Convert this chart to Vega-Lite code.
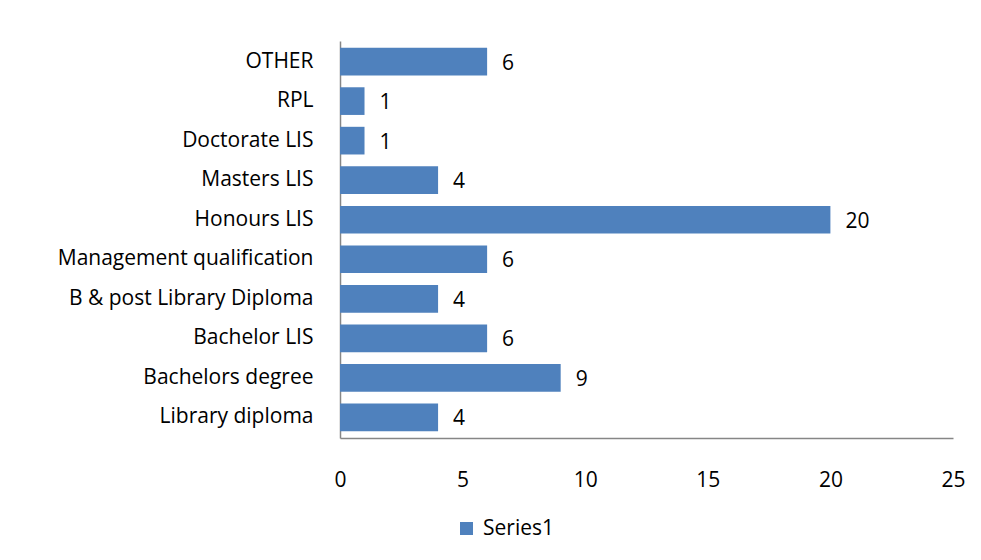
{
  "$schema": "https://vega.github.io/schema/vega-lite/v6.json",
  "autosize": {"type": "none"},
  "width": 613,
  "height": 397,
  "padding": {"left": 340, "top": 41, "right": 28, "bottom": 122},
  "background": "white",
  "config": {
    "view": {"stroke": null},
    "font": "Open Sans",
    "axis": {"labelFont": "Open Sans", "labelFontSize": 21, "labelColor": "#000000"}
  },
  "data": {
    "values": [
      {"category": "OTHER", "value": 6, "series": "Series1", "order": 1},
      {"category": "RPL", "value": 1, "series": "Series1", "order": 2},
      {"category": "Doctorate LIS", "value": 1, "series": "Series1", "order": 3},
      {"category": "Masters LIS", "value": 4, "series": "Series1", "order": 4},
      {"category": "Honours LIS", "value": 20, "series": "Series1", "order": 5},
      {"category": "Management qualification", "value": 6, "series": "Series1", "order": 6},
      {"category": "B & post Library Diploma", "value": 4, "series": "Series1", "order": 7},
      {"category": "Bachelor LIS", "value": 6, "series": "Series1", "order": 8},
      {"category": "Bachelors degree", "value": 9, "series": "Series1", "order": 9},
      {"category": "Library diploma", "value": 4, "series": "Series1", "order": 10}
    ]
  },
  "encoding": {
    "y": {
      "field": "category",
      "type": "nominal",
      "sort": {"field": "order", "order": "ascending"},
      "scale": {"paddingInner": 0.3, "paddingOuter": 0.17},
      "axis": {
        "title": null,
        "ticks": false,
        "domainColor": "#868686",
        "domainWidth": 1.5,
        "labelPadding": 27,
        "labelLimit": 400
      }
    },
    "x": {
      "field": "value",
      "type": "quantitative",
      "scale": {"domain": [0, 25]},
      "axis": {
        "title": null,
        "values": [0, 5, 10, 15, 20, 25],
        "ticks": false,
        "grid": false,
        "domainColor": "#868686",
        "domainWidth": 1.5,
        "labelPadding": 42,
        "labelBaseline": "middle",
        "labelFlush": false
      }
    }
  },
  "layer": [
    {
      "mark": {"type": "bar"},
      "encoding": {
        "color": {
          "field": "series",
          "type": "nominal",
          "scale": {"range": ["#4F81BD"]},
          "legend": {
            "title": null,
            "orient": "none",
            "legendX": 116,
            "legendY": 477,
            "symbolType": "square",
            "symbolSize": 169,
            "symbolStrokeWidth": 0,
            "labelFont": "Open Sans",
            "labelFontSize": 21,
            "labelColor": "#000000",
            "labelOffset": 6
          }
        }
      }
    },
    {
      "mark": {"type": "text", "align": "left", "baseline": "middle", "dx": 15, "dy": 2, "font": "Open Sans", "fontSize": 21, "color": "#000000"},
      "encoding": {
        "text": {"field": "value", "type": "quantitative"}
      }
    }
  ]
}
